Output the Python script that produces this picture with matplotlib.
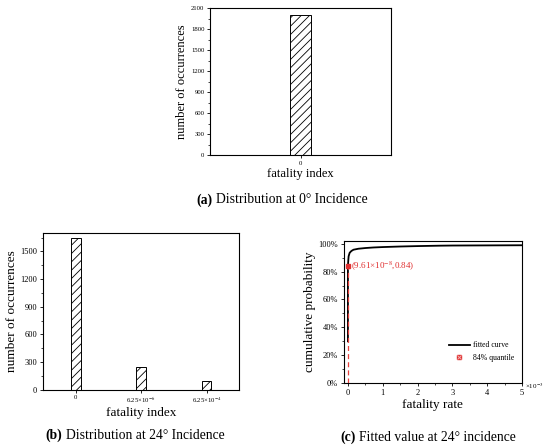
import matplotlib
matplotlib.use("Agg")
import matplotlib.pyplot as plt
import matplotlib.ticker as mticker
from matplotlib.offsetbox import TextArea, HPacker, AnchoredOffsetbox
from matplotlib.lines import Line2D

# ---- data ----
cats_a = ["0"]
counts_a = [2000]

cats_b = ["0", "6.25×10$^{-6}$", "6.25×10$^{-4}$"]
counts_b = [1650, 250, 100]

fit_x = [0, 1e-8, 1e-5, 2e-5, 5e-5, 1e-4, 1.6e-4, 3e-4, 5e-4, 7.3e-4, 1e-3,
         1.5e-3, 2e-3, 2.66e-3, 3e-3, 4e-3, 5e-3]
fit_y = [0.30, 0.84, 0.88, 0.91, 0.935, 0.948, 0.957, 0.964, 0.969, 0.973,
         0.976, 0.980, 0.983, 0.986, 0.987, 0.988, 0.989]
q_x = 9.61e-8
q_y = 0.84

plt.rcParams['font.family'] = ['Liberation Serif', 'DejaVu Serif']
plt.rcParams['mathtext.fontset'] = 'stix'
plt.rcParams['hatch.linewidth'] = 0.6

fig = plt.figure(figsize=(5.5, 4.47), dpi=100)

def style(ax, tsize):
    for s in ax.spines.values():
        s.set_linewidth(0.8)
    ax.tick_params(axis='both', which='major', direction='out', length=2.5,
                   width=0.6, labelsize=tsize, pad=1.5)
    ax.tick_params(axis='both', which='minor', direction='out', length=1.3,
                   width=0.5)

# (a)
axa = fig.add_axes([0.382, 0.653, 0.329, 0.329])
axa.bar(range(len(cats_a)), counts_a, width=0.12, color='white',
        edgecolor='black', hatch='////', linewidth=0.7)
axa.set_xlim(-0.5, 0.5)
axa.set_ylim(0, 2100)
axa.set_yticks(range(0, 2101, 300))
axa.yaxis.set_minor_locator(mticker.MultipleLocator(150))
axa.set_xticks(range(len(cats_a)))
axa.set_xticklabels(cats_a)
style(axa, 4.8)
axa.set_ylabel("number of occurrences", fontsize=9, labelpad=2)
axa.set_xlabel("fatality index", fontsize=9, labelpad=2)

# (b)
axb = fig.add_axes([0.078, 0.128, 0.357, 0.351])
axb.bar(range(len(cats_b)), counts_b, width=0.15, color='white',
        edgecolor='black', hatch='////', linewidth=0.7)
axb.set_xlim(-0.5, 2.5)
axb.set_ylim(0, 1700)
axb.set_yticks(range(0, 1501, 300))
axb.yaxis.set_minor_locator(mticker.MultipleLocator(150))
axb.set_xticks(range(len(cats_b)))
axb.set_xticklabels(cats_b)
style(axb, 6)
axb.tick_params(axis='x', labelsize=4.8)
axb.set_ylabel("number of occurrences", fontsize=9.5, labelpad=2)
axb.set_xlabel("fatality index", fontsize=9.5, labelpad=1)

# (c)
axc = fig.add_axes([0.625, 0.143, 0.324, 0.318])
axc.plot(fit_x, fit_y, color='black', lw=1.3, label='fitted curve')
axc.plot([q_x, q_x], [0, q_y], color='#e8413e', lw=0.9, ls=(0, (4, 2.5)))
axc.plot([q_x], [q_y], marker='s', ms=3.5, color='#e03030', ls='none')
axc.text(q_x + 0.09e-3, q_y, "(9.61×10$^{-8}$,0.84)", color='#e03030',
         fontsize=6.5, va='center', ha='left')
axc.set_xlim(-0.12e-3, 5e-3)
axc.set_ylim(0, 1.02)
axc.xaxis.set_major_locator(mticker.MultipleLocator(1e-3))
axc.xaxis.set_minor_locator(mticker.MultipleLocator(0.5e-3))
axc.xaxis.set_major_formatter(mticker.FuncFormatter(lambda v, p: f"{v/1e-3:.0f}"))
axc.set_yticks([0, 0.2, 0.4, 0.6, 0.8, 1.0])
axc.yaxis.set_minor_locator(mticker.MultipleLocator(0.1))
axc.yaxis.set_major_formatter(mticker.FuncFormatter(lambda v, p: f"{v*100:.0f}%"))
style(axc, 6)
axc.set_xlabel("fatality rate", fontsize=9.5, labelpad=2)
axc.set_ylabel("cumulative probability", fontsize=9.5, labelpad=2)
axc.text(1.015, -0.02, "×10$^{-3}$", transform=axc.transAxes, fontsize=5,
         ha='left', va='center')
h_line = Line2D([], [], color='black', lw=1.3)
h_sq = Line2D([], [], marker='s', ms=3.5, color='#e03030', ls='none',
              markeredgecolor='#e03030')
h_x = Line2D([], [], marker='x', ms=2.5, color='#f3b0b0', ls='none', mew=0.7)
axc.legend([h_line, (h_sq, h_x)], ['fitted curve', '84% quantile'],
           loc='lower right', bbox_to_anchor=(0.99, 0.11), frameon=False,
           fontsize=5.6, handlelength=2.6, handletextpad=0.5,
           labelspacing=0.6, borderpad=0.2)

# captions
def caption(letter, rest, x, y):
    t1 = TextArea(letter, textprops=dict(fontsize=9.8, fontweight='bold',
                                         family=['Liberation Serif']))
    t2 = TextArea(rest, textprops=dict(fontsize=9.8,
                                       family=['Liberation Serif']))
    box = HPacker(children=[t1, t2], align='baseline', pad=0, sep=2.8)
    ab = AnchoredOffsetbox(loc='center', child=box, frameon=False,
                           bbox_to_anchor=(x, y),
                           bbox_transform=fig.transFigure, borderpad=0, pad=0)
    fig.add_artist(ab)

caption("(a)", "Distribution at 0° Incidence", 0.513, 0.553)
caption("(b)", "Distribution at 24° Incidence", 0.245, 0.027)
caption("(c)", "Fitted value at 24° incidence", 0.778, 0.022)

fig.savefig("out.png", dpi=100)
